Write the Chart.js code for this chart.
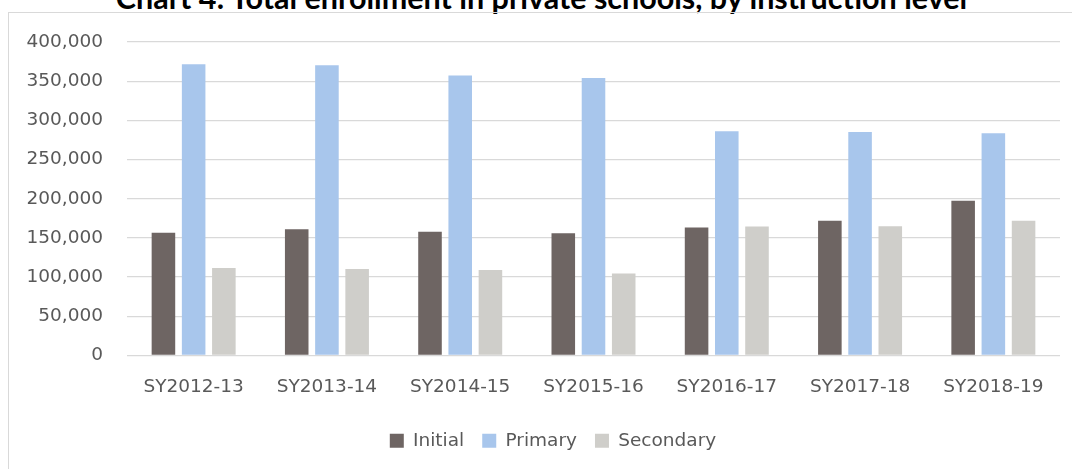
<!DOCTYPE html>
<html>
<head>
<meta charset="utf-8">
<script src="https://cdn.jsdelivr.net/npm/chart.js@4"></script>
<style>
  html,body{margin:0;padding:0;background:#fff;overflow:hidden;}
  body{width:1072px;height:469px;position:relative;}
  #title{position:absolute;left:0;top:-18px;width:1072px;padding-left:11px;box-sizing:border-box;text-align:center;
    font-family:Lato,sans-serif;font-weight:700;font-size:30.5px;line-height:30px;color:#000;white-space:nowrap;}
  #frame{position:absolute;left:8px;top:12px;width:1100px;height:500px;border:1.5px solid #d9d9d9;box-sizing:border-box;}
  #chart{position:absolute;left:0;top:0;}
</style>
</head>
<body>
<div id="title">Chart 4: Total enrollment in private schools, by instruction level</div>
<div id="frame"></div>
<canvas id="chart" width="1072" height="469"></canvas>
<script>
const years = ['SY2012-13','SY2013-14','SY2014-15','SY2015-16','SY2016-17','SY2017-18','SY2018-19'];
const initial = [156500,161100,157800,156000,163300,171800,197400];
const primary = [371700,370400,357300,354200,286000,285200,283500];
const secondary = [111800,110500,109200,104500,164600,165000,171800];
const yTicks = [0,50000,100000,150000,200000,250000,300000,350000,400000];

const txt = '#595959';
const gridCol = '#d9d9d9';
const font = {family:'DejaVu Sans', size:18.5};

// legend sits a bit right of the canvas centre in the original
const legendShift = {
  id:'legendShift',
  afterLayout(chart){
    const l = chart.legend;
    if(l){ l.left += 23; l.right += 23; }
  }
};

const ctx = document.getElementById('chart').getContext('2d');
new Chart(ctx,{
  type:'bar',
  data:{
    labels:years,
    datasets:[
      {label:'Initial',data:initial,backgroundColor:'#6e6563'},
      {label:'Primary',data:primary,backgroundColor:'#a8c6ec'},
      {label:'Secondary',data:secondary,backgroundColor:'#cfceca'}
    ]
  },
  options:{
    responsive:false,
    animation:false,
    categoryPercentage:0.68,
    barPercentage:0.78,
    layout:{padding:{left:0,right:12,top:42,bottom:9}},
    scales:{
      x:{
        grid:{display:false},
        border:{display:false},
        ticks:{color:txt,font:font,padding:13,maxRotation:0},
        afterFit:s=>{s.height=58;}
      },
      y:{
        min:0,max:400000,
        afterBuildTicks:s=>{s.ticks=yTicks.map(v=>({value:v}));},
        grid:{color:gridCol,lineWidth:1.3,drawTicks:false},
        border:{display:false},
        ticks:{color:txt,font:font,padding:24,callback:v=>v.toLocaleString('en-US')},
        afterFit:s=>{s.width=127;}
      }
    },
    plugins:{
      legend:{
        position:'bottom',
        labels:{color:txt,font:font,boxWidth:14,boxHeight:14,padding:18}
      },
      tooltip:{enabled:false}
    }
  },
  plugins:[legendShift]
});
</script>
</body>
</html>
